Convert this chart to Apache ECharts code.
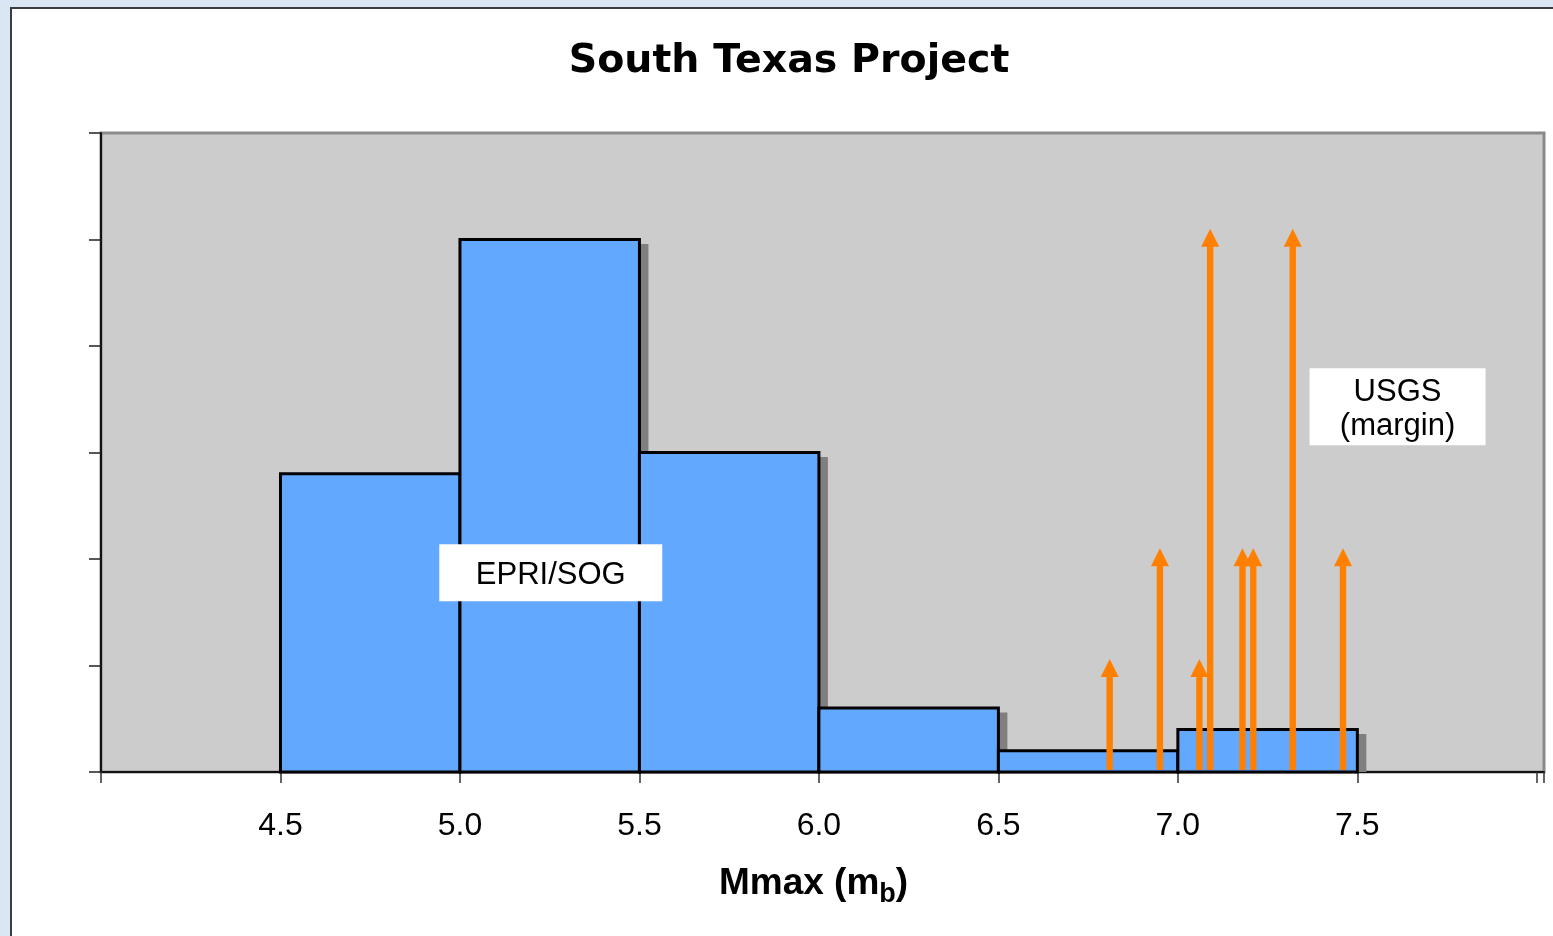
<!DOCTYPE html>
<html>
<head>
<meta charset="utf-8">
<script src="https://cdn.jsdelivr.net/npm/echarts@6/dist/echarts.min.js"></script>
<style>
html,body{margin:0;padding:0;width:1553px;height:936px;overflow:hidden;background:#dae6f3;}
#panel{position:absolute;left:10px;top:7px;width:1543px;height:929px;background:#fff;border-left:2px solid #3c3c3c;border-top:2px solid #3c3c3c;box-sizing:border-box;}
#chart{position:absolute;left:0;top:0;width:1553px;height:936px;}
</style>
</head>
<body>
<div id="panel"></div>
<div id="chart"></div>
<script>
// ---- data ----
const titleText = 'South Texas Project';
const binStarts = [4.5, 5.0, 5.5, 6.0, 6.5, 7.0];
const binEnds   = [5.0, 5.5, 6.0, 6.5, 7.0, 7.5];
const binHeights = [2.8, 5.0, 3.0, 0.6, 0.2, 0.4];
const arrowX = [6.81, 6.95, 7.06, 7.09, 7.18, 7.21, 7.32, 7.46];
const arrowH = [1.06, 2.1, 1.06, 5.1, 2.1, 2.1, 5.1, 2.1];
const xTickValues = [4.5, 5.0, 5.5, 6.0, 6.5, 7.0, 7.5];
const xTickLabels = ['4.5', '5.0', '5.5', '6.0', '6.5', '7.0', '7.5'];
const annotationText = ['EPRI/SOG', 'USGS\n(margin)'];
const annotationX = [5.253, 7.612];
const annotationY = [1.87, 3.43];

// ---- build ----
const barData = binStarts.map((s, i) => [s, binEnds[i], binHeights[i]]);
const arrowData = arrowX.map((x, i) => [x, arrowH[i]]);
const annData = annotationX.map((x, i) => [x, annotationY[i], i]);
const boxSizes = [[223, 57], [176, 77]];

const chart = echarts.init(document.getElementById('chart'), null, {renderer: 'canvas'});
const option = {
  backgroundColor: 'transparent',
  animation: false,
  title: {
    text: titleText,
    left: 784,
    textAlign: 'center',
    top: 37,
    textStyle: {fontFamily: 'DejaVu Sans', fontWeight: 'bold', fontSize: 39.5, color: '#000'}
  },
  grid: {
    left: 101, right: 9, top: 133, bottom: 164,
    show: true, backgroundColor: '#cccccc', borderColor: '#8a8a8a', borderWidth: 3
  },
  xAxis: {
    type: 'value', min: 4, max: 8.02, interval: 0.5,
    splitLine: {show: false},
    axisLine: {show: true, onZero: false, lineStyle: {color: '#111', width: 2}},
    axisTick: {show: true, length: 11, lineStyle: {color: '#333', width: 1.5}},
    axisLabel: {
      margin: 38, fontFamily: 'Liberation Sans', fontSize: 32, color: '#000',
      formatter: function (v) {
        for (let i = 0; i < xTickValues.length; i++) {
          if (Math.abs(xTickValues[i] - v) < 1e-6) return xTickLabels[i];
        }
        return '';
      }
    },
    name: '{a|Mmax (m}{b|b}{a|)}',
    nameLocation: 'middle',
    nameGap: 92,
    nameTextStyle: {
      padding: [0, 18, 0, 0],
      rich: {
        a: {fontFamily: 'Liberation Sans', fontWeight: 'bold', fontSize: 37, color: '#000', lineHeight: 40},
        b: {fontFamily: 'Liberation Sans', fontWeight: 'bold', fontSize: 27, color: '#000', lineHeight: 27, padding: [22, 0, 0, 0]}
      }
    }
  },
  yAxis: {
    type: 'value', min: 0, max: 6, interval: 1,
    splitLine: {show: false},
    axisLine: {show: true, lineStyle: {color: '#111', width: 2}},
    axisTick: {show: true, length: 12, lineStyle: {color: '#222', width: 1.5}},
    axisLabel: {show: false}
  },
  series: [
    {
      type: 'custom',
      name: 'EPRI/SOG',
      data: barData,
      encode: {x: [0, 1], y: 2},
      renderItem: function (params, api) {
        const pTop = api.coord([api.value(0), api.value(2)]);
        const pBot = api.coord([api.value(1), 0]);
        const w = pBot[0] - pTop[0];
        const h = pBot[1] - pTop[1];
        return {
          type: 'group',
          children: [
            {type: 'rect', shape: {x: pTop[0] + 9, y: pTop[1] + 4.5, width: w, height: h - 4.5},
             style: {fill: '#7f7f7f'}},
            {type: 'rect', shape: {x: pTop[0], y: pTop[1], width: w, height: h},
             style: {fill: '#63a8ff', stroke: '#000', lineWidth: 3}}
          ]
        };
      },
      z: 2
    },
    {
      type: 'custom',
      name: 'USGS',
      data: arrowData,
      encode: {x: 0, y: 1},
      renderItem: function (params, api) {
        const base = api.coord([api.value(0), 0]);
        const tip = api.coord([api.value(0), api.value(1)]);
        const cx = tip[0];
        const headLen = 18, headHalf = 9, shaftHalf = 3.2;
        return {
          type: 'group',
          children: [
            {type: 'rect', shape: {x: cx - shaftHalf, y: tip[1] + headLen - 1, width: shaftHalf * 2, height: base[1] - 2 - (tip[1] + headLen - 1)},
             style: {fill: '#ff8000'}},
            {type: 'polygon', shape: {points: [[cx - headHalf, tip[1] + headLen], [cx, tip[1]], [cx + headHalf, tip[1] + headLen]]},
             style: {fill: '#ff8000'}}
          ]
        };
      },
      z: 3
    },
    {
      type: 'custom',
      name: 'labels',
      data: annData,
      encode: {x: 0, y: 1},
      renderItem: function (params, api) {
        const c = api.coord([api.value(0), api.value(1)]);
        const idx = api.value(2);
        const sz = boxSizes[idx];
        return {
          type: 'group',
          children: [
            {type: 'rect', shape: {x: c[0] - sz[0] / 2, y: c[1] - sz[1] / 2, width: sz[0], height: sz[1]},
             style: {fill: '#ffffff'}},
            {type: 'text', x: c[0], y: c[1] + 3,
             style: {text: annotationText[idx], fill: '#000', fontFamily: 'Liberation Sans', fontSize: 31,
                     lineHeight: 34, align: 'center', verticalAlign: 'middle'}}
          ]
        };
      },
      z: 4
    }
  ]
};
chart.setOption(option);
</script>
</body>
</html>
